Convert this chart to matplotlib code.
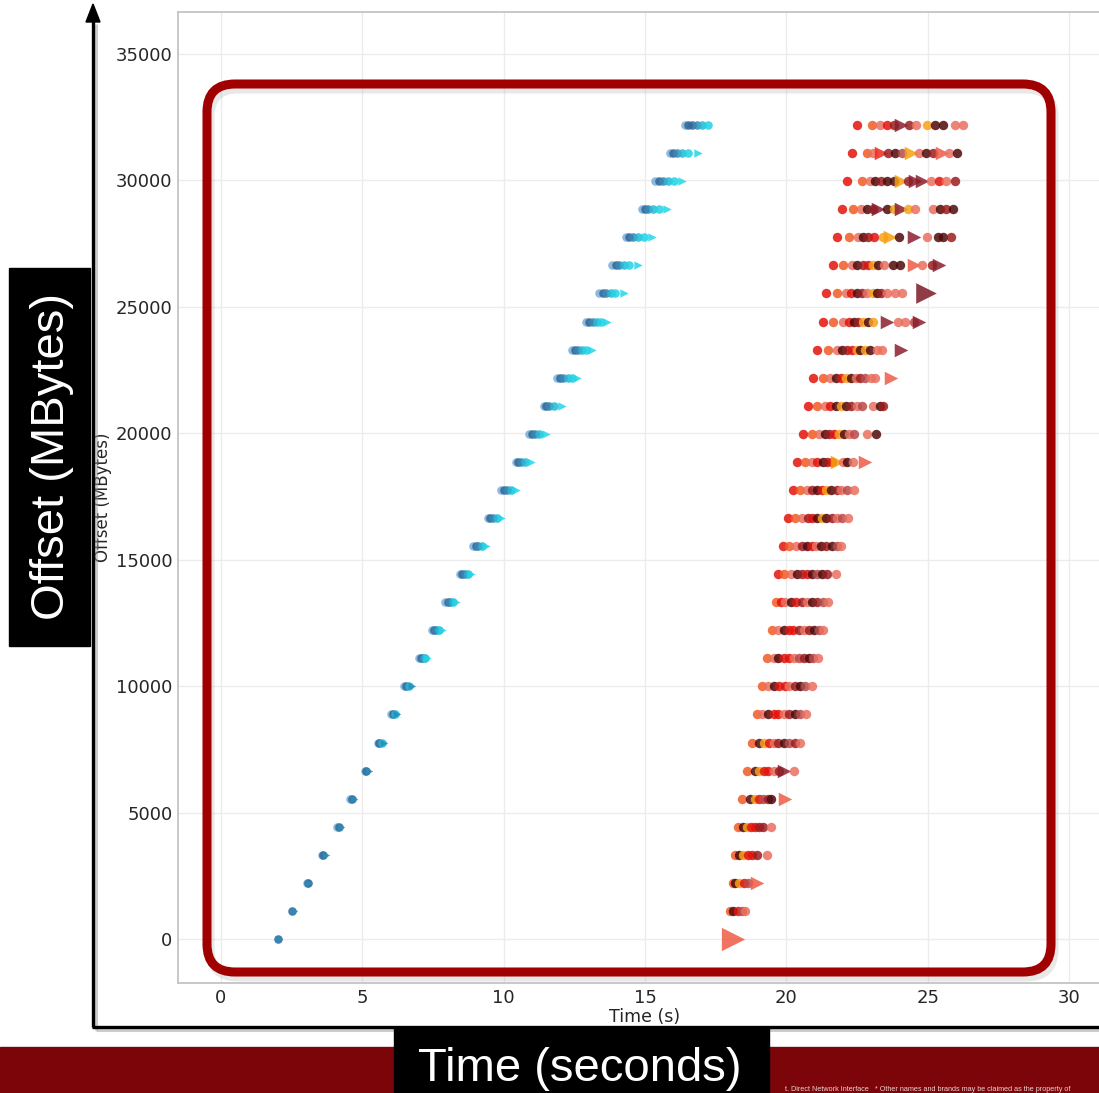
import matplotlib
matplotlib.use('Agg')
import matplotlib.pyplot as plt
from matplotlib.patches import FancyBboxPatch, Rectangle, Polygon

# ---------------- data ----------------
offsets_mb = [0, 1110, 2220, 3330, 4440, 5550, 6660, 7770, 8880, 9990,
              11100, 12210, 13320, 14430, 15540, 16650, 17760, 18870, 19980, 21090,
              22200, 23310, 24420, 25530, 26640, 27750, 28860, 29970, 31080, 32190]

x_ticks = [0, 5, 10, 15, 20, 25, 30]
y_ticks = [0, 5000, 10000, 15000, 20000, 25000, 30000, 35000]

# first job (blue): request times per offset row
blue_times = [
    [2.00, 2.05],
    [2.53, 2.58],
    [3.03, 3.08, 3.11],
    [3.56, 3.62, 3.70],
    [4.09, 4.16, 4.23],
    [4.58, 4.64, 4.69],
    [5.08, 5.14, 5.22],
    [5.54, 5.60, 5.68, 5.75],
    [6.03, 6.10, 6.17, 6.24],
    [6.49, 6.56, 6.64, 6.77],
    [6.99, 7.06, 7.14, 7.22, 7.30],
    [7.45, 7.53, 7.62, 7.72, 7.83],
    [7.94, 8.02, 8.10, 8.22, 8.33],
    [8.44, 8.52, 8.62, 8.74, 8.86],
    [8.93, 9.01, 9.10, 9.22, 9.36],
    [9.43, 9.52, 9.62, 9.76, 9.92],
    [9.92, 10.01, 10.12, 10.26, 10.45],
    [10.42, 10.51, 10.62, 10.76, 10.98],
    [10.91, 11.00, 11.12, 11.25, 11.51],
    [11.41, 11.50, 11.62, 11.78, 12.08],
    [11.90, 11.99, 12.10, 12.26, 12.40, 12.61],
    [12.43, 12.52, 12.63, 12.78, 12.92, 13.14],
    [12.93, 13.03, 13.15, 13.30, 13.45, 13.67],
    [13.39, 13.50, 13.62, 13.78, 13.95, 14.24],
    [13.85, 13.96, 14.08, 14.25, 14.42, 14.77],
    [14.34, 14.45, 14.58, 14.75, 14.95, 15.26],
    [14.88, 14.99, 15.12, 15.29, 15.50, 15.79],
    [15.37, 15.48, 15.62, 15.80, 16.02, 16.32],
    [15.87, 15.99, 16.12, 16.30, 16.52, 16.86],
    [16.40, 16.52, 16.66, 16.84, 17.02, 17.24],
]
blue_codes = (["da", "da"] + ["lda"] * 5 + ["ldta"] * 3 + ["ldmtA"] * 10
              + ["ldmtcA"] * 9 + ["lddmtc"])

# second job (red): request times per offset row
red_times = [
    [18.10],
    [18.02, 18.10, 18.30, 18.42, 18.55],
    [18.11, 18.20, 18.33, 18.50, 18.65, 18.95],
    [18.18, 18.34, 18.48, 18.64, 18.78, 18.95, 19.30],
    [18.29, 18.45, 18.60, 18.75, 18.90, 19.05, 19.18, 19.45],
    [18.43, 18.70, 18.90, 19.05, 19.18, 19.35, 19.45, 19.95],
    [18.61, 18.88, 19.02, 19.20, 19.35, 19.55, 19.75, 19.90, 20.28],
    [18.80, 19.05, 19.20, 19.38, 19.55, 19.72, 19.90, 20.10, 20.30, 20.50],
    [18.96, 19.15, 19.35, 19.55, 19.72, 19.90, 20.10, 20.30, 20.48, 20.71],
    [19.13, 19.35, 19.55, 19.75, 19.95, 20.10, 20.30, 20.50, 20.65, 20.90],
    [19.33, 19.55, 19.70, 19.90, 20.10, 20.28, 20.45, 20.62, 20.80, 20.95, 21.12],
    [19.49, 19.72, 19.90, 20.08, 20.25, 20.45, 20.62, 20.80, 20.98, 21.15, 21.31],
    [19.62, 19.80, 19.95, 20.15, 20.35, 20.55, 20.72, 20.90, 21.10, 21.28, 21.49],
    [19.70, 19.90, 20.15, 20.38, 20.55, 20.72, 20.90, 21.08, 21.25, 21.45, 21.74],
    [19.88, 20.09, 20.35, 20.55, 20.72, 20.90, 21.05, 21.22, 21.40, 21.60, 21.78, 21.95],
    [20.06, 20.30, 20.55, 20.75, 20.92, 21.10, 21.25, 21.42, 21.60, 21.80, 21.98, 22.18],
    [20.23, 20.48, 20.72, 20.90, 21.08, 21.25, 21.40, 21.58, 21.78, 21.95, 22.15, 22.40],
    [20.38, 20.66, 20.92, 21.10, 21.28, 21.45, 21.62, 21.80, 22.00, 22.15, 22.35, 22.80],
    [20.59, 20.91, 21.15, 21.35, 21.52, 21.70, 21.88, 22.03, 22.20, 22.40, 22.85, 23.18],
    [20.76, 21.08, 21.35, 21.55, 21.75, 21.95, 22.12, 22.30, 22.50, 22.68, 23.06, 23.30, 23.42],
    [20.94, 21.30, 21.55, 21.75, 21.92, 22.10, 22.28, 22.45, 22.62, 22.80, 23.00, 23.15, 23.70],
    [21.08, 21.47, 21.79, 21.98, 22.15, 22.32, 22.50, 22.62, 22.78, 22.95, 23.20, 23.40, 24.05],
    [21.30, 21.65, 22.00, 22.20, 22.38, 22.55, 22.72, 22.88, 23.05, 23.55, 23.95, 24.20, 24.50, 24.70],
    [21.40, 21.79, 22.10, 22.30, 22.50, 22.68, 22.85, 23.05, 23.20, 23.35, 23.55, 23.85, 24.10, 24.95],
    [21.65, 22.00, 22.32, 22.50, 22.70, 22.88, 23.05, 23.25, 23.45, 23.77, 24.02, 24.50, 24.80, 25.15, 25.40],
    [21.79, 22.21, 22.53, 22.72, 22.90, 23.10, 23.42, 23.65, 24.00, 24.50, 24.97, 25.35, 25.55, 25.82],
    [21.97, 22.36, 22.65, 22.85, 23.05, 23.25, 23.55, 23.80, 24.05, 24.30, 24.55, 25.20, 25.45, 25.65, 25.90],
    [22.14, 22.67, 22.95, 23.15, 23.35, 23.55, 23.80, 24.05, 24.30, 24.55, 24.80, 25.10, 25.40, 25.65, 25.95],
    [22.32, 22.85, 23.05, 23.35, 23.60, 23.85, 24.10, 24.40, 24.70, 24.95, 25.20, 25.50, 25.75, 26.05],
    [22.50, 23.03, 23.31, 23.55, 23.80, 24.05, 24.35, 24.60, 24.97, 25.26, 25.54, 25.95, 26.25],
]
red_codes = [
    "B", "omrbs", "omgrbS", "omgrrds", "omgrrdds", "omgrbdmS", "omgrrsdDs",
    "omgrsdmbds", "osmrrsdmbs", "osmrrsdmbs", "osmrrsbdmbs", "osmrrdsdmbs",
    "orsmrdsmdbs", "rosmdrmbmds", "rosdmrsmdmbs", "rosdrmgmdsbs", "rosdmrgmdsbs",
    "rosrmdrGsmsS", "rosmdrgmsbsm", "rosrmgmdsbsmd", "rosmrgmsdbssS",
    "rosmdrgmgmssD", "rosrmdgmgDssbD", "rosrmdsgmdsssX", "rosmdrgmsmmSsdD",
    "rosmdrgGmDsmmd", "rosmdDmgDgssmdm", "rosmdmmGdDDsrsd", "rosRdmbGsmdSsm",
    "rosrdDdsgmmss",
]

# ---------------- styles ----------------
blue_style = {  # code: (color, marker, size)
    'l': ('#79add6', 'o', 38), 'd': ('#2f6796', 'o', 38), 'm': ('#3a86b5', 'o', 38),
    't': ('#24b9d4', 'o', 38), 'c': ('#22d2e6', 'o', 38), 'A': ('#1fd8ea', '>', 36),
    'a': ('#2a8cb8', '>', 30),
}
red_style = {
    'r': ('#e3120b', 'o', 46), 'o': ('#f15a24', 'o', 46), 's': ('#e9705f', 'o', 46),
    'd': ('#9b1d20', 'o', 46), 'm': ('#4f0a0a', 'o', 46), 'b': ('#b84a4a', 'o', 46),
    'g': ('#f7a21b', 'o', 46),
    'S': ('#ef5b45', '>', 95), 'D': ('#8a1e2c', '>', 95), 'R': ('#f0281c', '>', 95),
    'G': ('#f5a00f', '>', 95), 'B': ('#ef5b45', '>', 280), 'X': ('#7d1a26', '>', 220),
}

W, H = 1099, 1093
fig = plt.figure(figsize=(W / 100, H / 100), dpi=100)
fig.patch.set_facecolor('white')

ax = fig.add_axes([178 / W, 1 - 983 / H, 934 / W, 971 / H])
ax.set_xlim(-1.52, 31.52)
ax.set_ylim(-1740, 36660)
ax.set_xticks(x_ticks)
ax.set_yticks(y_ticks)
ax.grid(True, color='#ececec', linewidth=1.0)
ax.set_axisbelow(True)
for sp in ax.spines.values():
    sp.set_color('#c4c4c4')
    sp.set_linewidth(1.3)
ax.tick_params(length=0, labelsize=13, labelcolor='#262626', pad=4)
ax.set_xlabel('Time (s)', fontsize=12.5, color='#262626', labelpad=1)
ax.set_ylabel('Offset (MBytes)', fontsize=12, color='#262626', labelpad=3)

for y, ts, cs in zip(offsets_mb, blue_times, blue_codes):
    for t, c in zip(ts, cs):
        col, mk, sz = blue_style[c]
        ax.scatter([t], [y], s=sz, c=col, marker=mk, alpha=0.85, linewidths=0, zorder=3)

for y, ts, cs in zip(offsets_mb, red_times, red_codes):
    for t, c in zip(ts, cs):
        col, mk, sz = red_style[c]
        ax.scatter([t], [y], s=sz, c=col, marker=mk, alpha=0.85, linewidths=0, zorder=3)

# ---------------- slide overlay (pixel coordinates) ----------------
ov = fig.add_axes([0, 0, 1, 1], zorder=5)
ov.set_xlim(0, W)
ov.set_ylim(H, 0)
ov.axis('off')
ov.patch.set_alpha(0)

# rounded highlight box with soft shadow (below/right)
ov.add_patch(FancyBboxPatch((210, 89), 844, 888, boxstyle='round,pad=0,rounding_size=28',
                            fill=False, ec='#9a9a9a', lw=6.5, alpha=0.22))
ov.add_patch(FancyBboxPatch((207, 84), 844, 888, boxstyle='round,pad=0,rounding_size=28',
                            fill=False, ec='#a00000', lw=6.5))

# black axis arrows with shadow
ov.plot([96, 96], [1030, 24], color='#9a9a9a', lw=2.2, alpha=0.5, solid_capstyle='butt')
ov.plot([96, W], [1030, 1030], color='#9a9a9a', lw=2.2, alpha=0.5, solid_capstyle='butt')
ov.plot([93, 93], [1027, 20], color='black', lw=2.4, solid_capstyle='butt')
ov.plot([92, W], [1027, 1027], color='black', lw=2.4, solid_capstyle='butt')
ov.add_patch(Polygon([[86, 22], [100, 22], [93, 4]], closed=True, color='black'))

# bottom banner
ov.add_patch(Rectangle((0, 1047), W, 46, color='#7b0508', zorder=1))
ov.text(785, 1093, 't. Direct Network Interface   * Other names and brands may be claimed as the property of',
        fontsize=5.2, color='#f0d0d0', ha='left', va='bottom', family='Liberation Sans')

# black label boxes
ov.add_patch(Rectangle((394, 1027), 375, 66, color='black', zorder=2))
ov.text(580, 1069, 'Time (seconds)', fontsize=34, color='white', ha='center', va='center',
        family='Liberation Sans', zorder=3)
ov.add_patch(Rectangle((9, 268), 81, 378, color='black', zorder=2))
ov.text(52, 457, 'Offset (MBytes)', fontsize=34, color='white', ha='center', va='center',
        rotation=90, family='Liberation Sans', zorder=3)

fig.savefig('out.png', dpi=100, facecolor='white')
